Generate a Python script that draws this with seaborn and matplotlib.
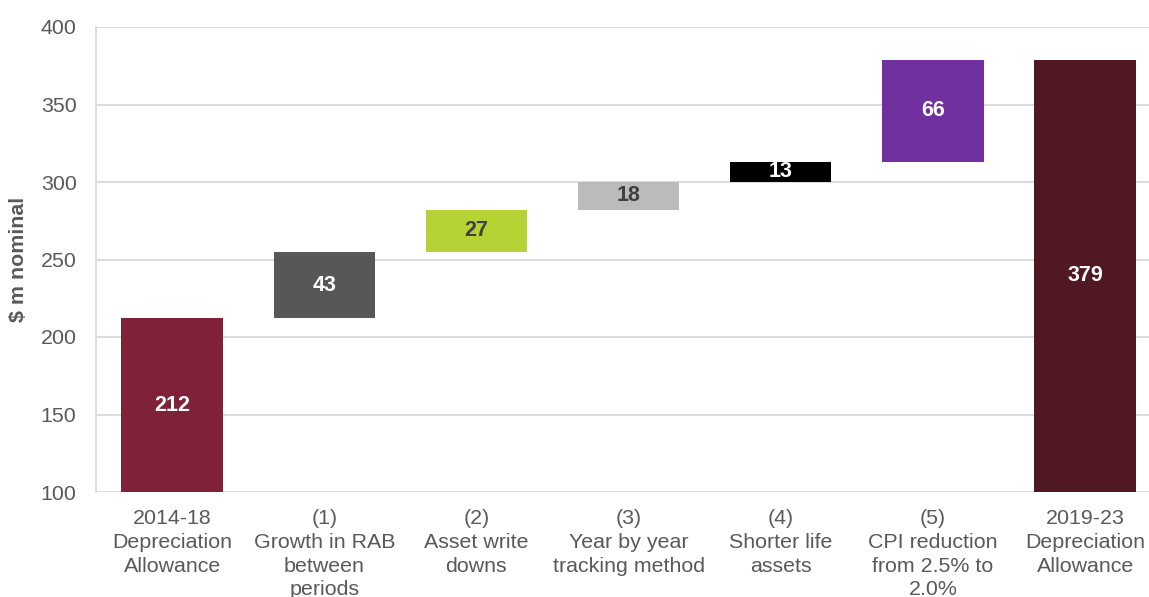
import matplotlib
matplotlib.use("Agg")
import matplotlib.pyplot as plt
import seaborn as sns
import pandas as pd

categories = ["2014-18\nDepreciation\nAllowance",
              "(1)\nGrowth in RAB\nbetween\nperiods",
              "(2)\nAsset write\ndowns",
              "(3)\nYear by year\ntracking method",
              "(4)\nShorter life\nassets",
              "(5)\nCPI reduction\nfrom 2.5% to\n2.0%",
              "2019-23\nDepreciation\nAllowance"]
values = [212, 43, 27, 18, 13, 66, 379]
is_total = [True, False, False, False, False, False, True]
colors = ["#7F2239", "#575757", "#B5D334", "#BBBBBB", "#000000", "#7030A0", "#4F1823"]
label_colors = ["white", "white", "#404040", "#404040", "white", "white", "white"]
yticks = [100, 150, 200, 250, 300, 350, 400]

# waterfall bottoms computed from the values
bottoms = []
running = 0
for v, t in zip(values, is_total):
    if t:
        bottoms.append(0)
        running = v
    else:
        bottoms.append(running)
        running += v

sns.set_theme(style="white")
plt.rcParams['font.family'] = ['Liberation Sans', 'DejaVu Sans']

fig = plt.figure(figsize=(11.49, 5.97), dpi=100)
ax = fig.add_axes([96/1149, 105/597, 1 - 96/1149, (492-27)/597])

for cat, v, b, c in zip(categories, values, bottoms, colors):
    d = pd.DataFrame({"cat": [cat], "val": [v]})
    sns.barplot(data=d, x="cat", y="val", order=categories, color=c, bottom=b,
                width=0.665, ax=ax, saturation=1, linewidth=0, zorder=3)

ax.set_ylim(100, 400)
ax.set_xlim(-0.5, 6.42)
ax.set_yticks(yticks)
ax.yaxis.grid(True, color="#D9D9D9", linewidth=1.3, zorder=0)
ax.set_axisbelow(True)
for s in ["top", "right", "bottom"]:
    ax.spines[s].set_visible(False)
ax.spines["left"].set_color("#D9D9D9")
ax.spines["left"].set_linewidth(1.3)
ax.tick_params(axis="y", length=0, pad=14, labelsize=15.4, labelcolor="#595959")
ax.tick_params(axis="x", length=0, pad=12.5, labelsize=15.4, labelcolor="#595959")
for lbl in ax.get_xticklabels():
    lbl.set_linespacing(1.31)
ax.set_xlabel("")
ax.set_ylabel("$ m nominal", fontsize=15.4, fontweight="bold", color="#595959", labelpad=9)

for i, (v, b) in enumerate(zip(values, bottoms)):
    lo = max(b, 100)
    mid = (lo + b + v) / 2
    ax.text(i, mid, str(v), ha="center", va="center", color=label_colors[i],
            fontsize=15.5, fontweight="bold", zorder=4)

fig.savefig("out.png", dpi=100)
